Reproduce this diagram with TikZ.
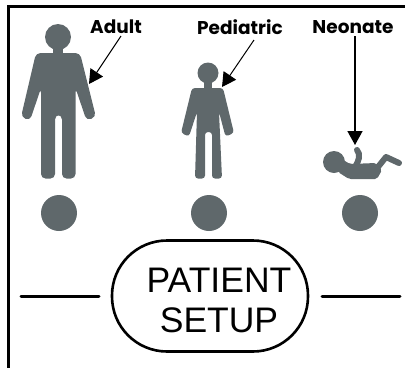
\documentclass[tikz,border=0pt]{standalone}
\usepackage{fontspec}
\setmainfont{Liberation Sans}
\newfontfamily\labelfont{Poppins}
\usetikzlibrary{arrows.meta}
\definecolor{figgray}{HTML}{5F686B}
\tikzset{
  figure/.style={fill=figgray,draw=none,rounded corners=3pt},
  limb/.style={draw=figgray,line width=6pt,line cap=round,line join=round},
  knob/.style={circle,fill=figgray,minimum size=36pt,inner sep=0pt},
  tag/.style={font=\labelfont\bfseries\fontsize{18.5}{20}\selectfont,inner sep=0pt},
  pointer/.style={-{Triangle[length=14pt,width=15pt]},line width=1pt},
  rule/.style={line width=3pt,line cap=round}
}
\begin{document}
\begin{tikzpicture}[x=1pt,y=-1pt]
    \useasboundingbox (0,0) rectangle (405,368);

    % frame
    \coordinate (frametop) at (405,6.5);
    \coordinate (framecorner) at (8.5,6.5);
    \coordinate (framebottom) at (8.5,368);
    \draw[line width=2.5pt] (frametop) -- (framecorner) -- (framebottom);

    % adult
    \fill[figgray] (58,37) circle (13);
    \fill[figgray] (53,45) rectangle (63,56);
    \path[figure,rounded corners=4.5pt] (36,53) -- (80,53) -- (96,117) -- (86.5,120.5) -- (75.5,88) -- (75.5,178.5)
      -- (62,178.5) -- (62,115) -- (55,115) -- (55,178.5) -- (41,178.5) -- (41,88)
      -- (30,120.5) -- (21,117) -- cycle;

    % pediatric
    \fill[figgray] (208,73) circle (10.5);
    \fill[figgray] (204,80) rectangle (212,90);
    \path[figure] (192,88) -- (223,88) -- (234,133) -- (225.5,136.5) -- (219,112) -- (222,178.5)
      -- (212,178.5) -- (212,132) -- (205,132) -- (205,178.5) -- (195,178.5) -- (197,112)
      -- (189,136.5) -- (181,133) -- cycle;

    % neonate
    \fill[figgray] (334,162) circle (11);
    \path[figure,rounded corners=2pt] (340,158) -- (350,164) -- (376,163) -- (382,170) -- (377,179) -- (349,179) -- (338,172) -- cycle;
    \draw[limb] (357,150) .. controls (361,155) and (359,160) .. (355,167);
    \draw[limb] (374,172) -- (386,157) -- (399,163);

    % knobs
    \foreach \x/\name in {59/adult,209/pediatric,360/neonate}
      \node[knob] (\name knob) at (\x,213) {};

    % labels
    \node[tag] (adult) at (116,27) {Adult};
    \node[tag] (pediatric) at (240,27) {Pediatric};
    \node[tag] (neonate) at (353,27) {Neonate};

    \coordinate (adulttip) at (89,84);
    \coordinate (pediatrictip) at (222,87);
    \coordinate (neonatetip) at (355,145);
    \draw[pointer] (121,36) -- (adulttip);
    \draw[pointer] (254,40) -- (pediatrictip);
    \draw[pointer,line width=1.6pt] (355,36) -- (neonatetip);

    % setup button
    \node[draw,line width=2.6pt,minimum width=196pt,minimum height=111pt,rounded corners=55pt] (setup) at (210,296) {};
    \node[align=center,inner sep=0pt,font=\fontsize{35.5}{40}\selectfont] (setuptext) at (219,300) {PATIENT\\SETUP};

    \coordinate (leftend) at (21,296);
    \coordinate (rightend) at (400,296);
    \draw[rule] (leftend) -- (99,296);
    \draw[rule] (322,296) -- (rightend);
\end{tikzpicture}
\end{document}
